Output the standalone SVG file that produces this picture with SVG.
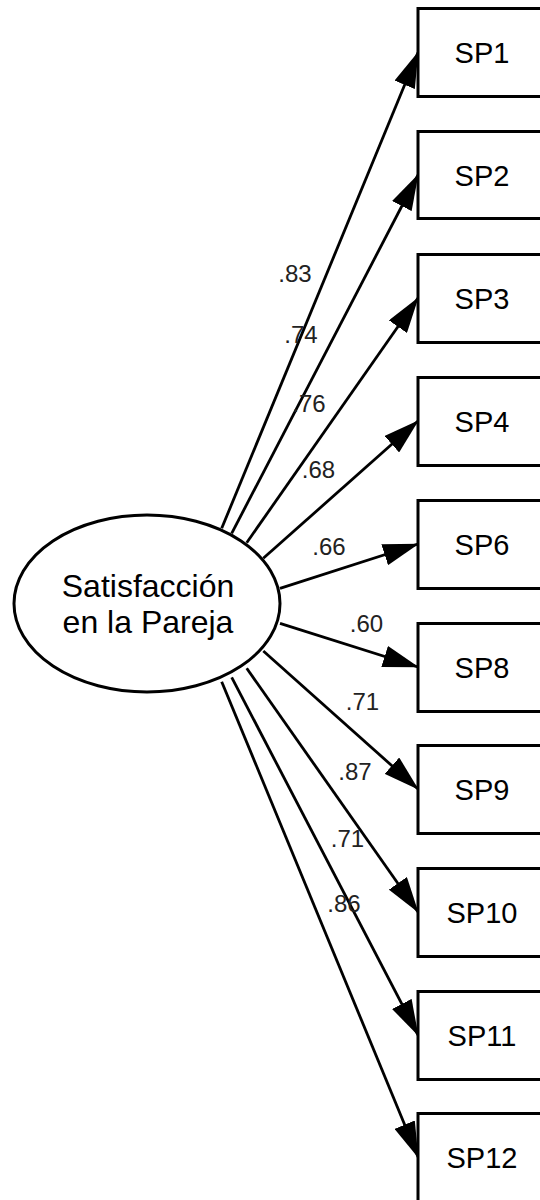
<svg xmlns="http://www.w3.org/2000/svg" width="540" height="1200" viewBox="0 0 540 1200">
<defs>
<style>
.box{fill:#fff;stroke:#000;stroke-width:3}
.lat{fill:#fff;stroke:#000;stroke-width:3}
.t{font-family:"Liberation Sans",Arial,sans-serif;fill:#000;text-anchor:middle}
.sp{font-size:29px}
.lt{font-size:32px}
.num{font-family:"Liberation Sans",Arial,sans-serif;fill:#222;text-anchor:middle;font-size:24px}
.c{stroke:#000;stroke-width:2.8;fill:none;marker-end:url(#ah)}
</style>
<marker id="ah" markerUnits="userSpaceOnUse" viewBox="0 0 36 22" markerWidth="36" markerHeight="22" refX="35" refY="11" orient="auto">
<path d="M0,0 L36,11 L0,22 z" fill="#000"/>
</marker>
</defs>
<rect width="540" height="1200" fill="#fff"/>
<g id="connectors">
<line class="c" x1="221.7" y1="528.3" x2="418" y2="52.5"/>
<line class="c" x1="231.7" y1="533.3" x2="418" y2="175"/>
<line class="c" x1="246.7" y1="542.7" x2="418" y2="298"/>
<line class="c" x1="263.3" y1="558.3" x2="418" y2="421"/>
<line class="c" x1="280" y1="588.3" x2="418" y2="544"/>
<line class="c" x1="280" y1="623.3" x2="418" y2="667"/>
<line class="c" x1="263.3" y1="651" x2="418" y2="789"/>
<line class="c" x1="246.7" y1="668.3" x2="418" y2="912"/>
<line class="c" x1="231.7" y1="677.3" x2="418" y2="1035"/>
<line class="c" x1="221.7" y1="681.7" x2="418" y2="1157"/>
<text class="num" x="295" y="282">.83</text>
<text class="num" x="301" y="343">.74</text>
<text class="num" x="309" y="412">.76</text>
<text class="num" x="318.5" y="478">.68</text>
<text class="num" x="329" y="555">.66</text>
<text class="num" x="366.5" y="632">.60</text>
<text class="num" x="362.5" y="710">.71</text>
<text class="num" x="355" y="779.5">.87</text>
<text class="num" x="347.5" y="847">.71</text>
<text class="num" x="344" y="912">.86</text>
</g>
<g id="latent">
<ellipse class="lat" cx="147" cy="603.5" rx="133" ry="88.5"/>
<text class="t lt" x="148" y="597">Satisfacción</text>
<text class="t lt" x="148" y="633">en la Pareja</text>
</g>
<g id="SP1"><rect class="box" x="418" y="8.5" width="140" height="88"/><text class="t sp" x="482" y="63">SP1</text></g>
<g id="SP2"><rect class="box" x="418" y="131.5" width="140" height="87"/><text class="t sp" x="482" y="186">SP2</text></g>
<g id="SP3"><rect class="box" x="418" y="254.5" width="140" height="88"/><text class="t sp" x="482" y="309">SP3</text></g>
<g id="SP4"><rect class="box" x="418" y="377.5" width="140" height="88"/><text class="t sp" x="482" y="432">SP4</text></g>
<g id="SP6"><rect class="box" x="418" y="500.5" width="140" height="88"/><text class="t sp" x="482" y="555">SP6</text></g>
<g id="SP8"><rect class="box" x="418" y="623.5" width="140" height="88"/><text class="t sp" x="482" y="678">SP8</text></g>
<g id="SP9"><rect class="box" x="418" y="745.5" width="140" height="88"/><text class="t sp" x="482" y="800">SP9</text></g>
<g id="SP10"><rect class="box" x="418" y="868.5" width="140" height="88"/><text class="t sp" x="482" y="923">SP10</text></g>
<g id="SP11"><rect class="box" x="418" y="991.5" width="140" height="88"/><text class="t sp" x="482" y="1046">SP11</text></g>
<g id="SP12"><rect class="box" x="418" y="1113.5" width="140" height="88"/><text class="t sp" x="482" y="1168">SP12</text></g>
</svg>
